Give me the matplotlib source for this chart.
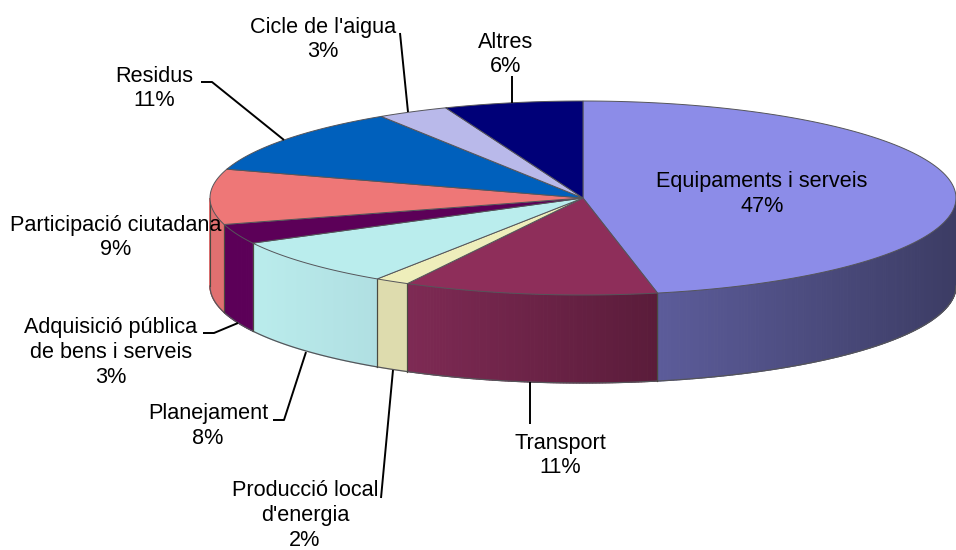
import numpy as np
import matplotlib
matplotlib.use("Agg")
import matplotlib.pyplot as plt
from matplotlib.colors import to_rgb

# values, clockwise from 12 o'clock
categories = ["Equipaments i serveis", "Transport", "Producció local\nd'energia", "Planejament",
              "Adquisició pública\nde bens i serveis", "Participació ciutadana", "Residus",
              "Cicle de l'aigua", "Altres"]
shares = [46.8, 11.0, 1.5, 8.0, 3.3, 9.2, 11.1, 3.1, 6.0]
pct_labels = ["47%", "11%", "2%", "8%", "3%", "9%", "11%", "3%", "6%"]

top_colors = ["#8C8CE8", "#8E2E5A", "#EEEEBB", "#BAEDED", "#5C0058", "#EE7777", "#0060BC", "#B9B9EA", "#000078"]
side_start = ["#5C5C9A", "#7E2A54", "#DEDCAE", "#BAECEC", "#5C0058", "#E07070", "#000000", "#000000", "#000000"]
side_end = ["#3C3C64", "#5A1C3A", "#DEDCAE", "#B0DFE2", "#5C0058", "#E07070", "#000000", "#000000", "#000000"]

label_xy = [(762, 182), (560, 443), (305, 491), (208, 414), (111, 328), (116, 225), (154, 76), (323, 27), (506, 42)]

leaders = [
    [(201, 82), (212, 82), (284, 140)],
    [(400, 33), (408, 112)],
    [(512, 76), (512, 103)],
    [(203, 333), (214, 333), (238, 323)],
    [(273, 420), (284, 420), (306, 352)],
    [(381, 498), (393, 370)],
    [(530, 382), (530, 424)],
]

CX, CY, RX, RY, DEPTH = 583, 198, 373, 97, 88
EDGE = "#55555a"


def rim(t):
    t = np.radians(t)
    return CX + RX * np.sin(t), CY - RY * np.cos(t)


fig = plt.figure(figsize=(9.56, 5.5), dpi=100)
ax = fig.add_axes([0, 0, 1, 1])
ax.set_xlim(0, 956)
ax.set_ylim(550, 0)
ax.axis("off")

edges = np.concatenate([[0], np.cumsum(shares)]) / sum(shares) * 360

# side wall, only the front half of the disc shows
for i in range(len(shares)):
    a0, a1 = max(edges[i], 90), min(edges[i + 1], 270)
    if a1 <= a0:
        continue
    steps = np.linspace(a0, a1, max(int((a1 - a0) * 2), 2) + 1)
    c0, c1 = np.array(to_rgb(side_start[i])), np.array(to_rgb(side_end[i]))
    # the gradient runs left to right on screen
    x_all = rim(steps)[0]
    for s0, s1 in zip(steps[:-1], steps[1:]):
        tt = np.linspace(s0, s1, 3)
        x, y = rim(tt)
        frac = (x.mean() - x_all.min()) / (x_all.max() - x_all.min())
        col = c0 + (c1 - c0) * frac
        ax.fill(np.r_[x, x[::-1]], np.r_[y, y[::-1] + DEPTH], facecolor=col, edgecolor=col, lw=0.8, zorder=2)
    x, y = rim(steps)
    ax.plot(x, y + DEPTH, color=EDGE, lw=0.9, zorder=3)
    for a in (a0, a1):
        xa, ya = rim(a)
        ax.plot([xa, xa], [ya, ya + DEPTH], color="#4a4a40", lw=0.8, zorder=3)

# top face
for i in range(len(shares)):
    tt = np.linspace(edges[i], edges[i + 1], 120)
    x, y = rim(tt)
    ax.fill(np.r_[CX, x], np.r_[CY, y], facecolor=top_colors[i], edgecolor=EDGE, lw=0.7, zorder=4)

for pts in leaders:
    xs, ys = zip(*pts)
    ax.plot(xs, ys, color="black", lw=1.4, solid_capstyle="butt", zorder=5)

for name, pct, (x, y) in zip(categories, pct_labels, label_xy):
    lines = name.split("\n") + [pct]
    for k, line in enumerate(lines):
        ax.text(x, y + k * 24.6, line, ha="center", va="center", fontsize=15.6,
                family="Liberation Sans", color="black", zorder=6)

fig.savefig("out.png", dpi=100)
